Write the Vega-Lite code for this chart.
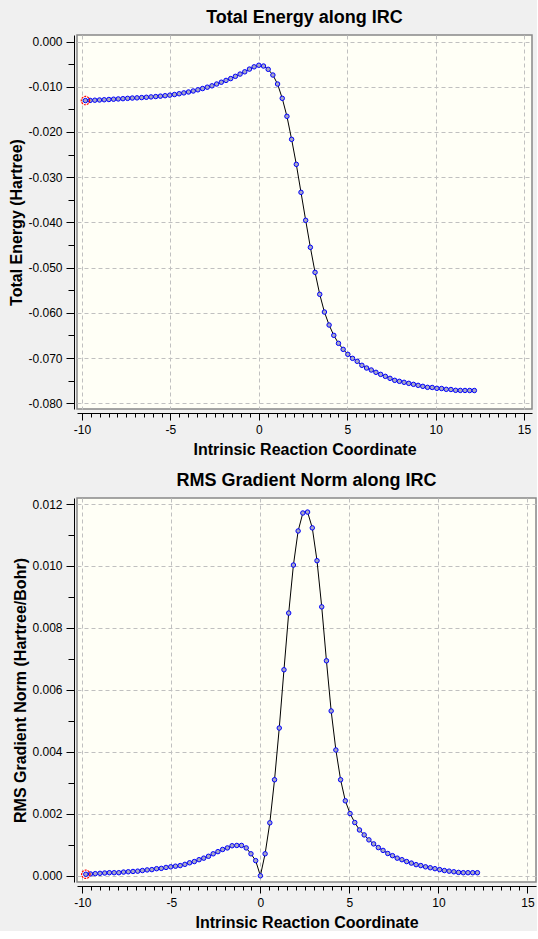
{
  "$schema": "https://vega.github.io/schema/vega-lite/v6.json",
  "background": "#f0f0f0",
  "padding": {"left": 8, "top": 8, "right": 0, "bottom": 0},
  "datasets": {
    "irc": [
      {"x": -9.805, "e": -0.01306, "g": 0.00005},
      {"x": -9.54, "e": -0.01302, "g": 0.00006},
      {"x": -9.275, "e": -0.01298, "g": 0.00007},
      {"x": -9.01, "e": -0.01293, "g": 0.00008},
      {"x": -8.745, "e": -0.01288, "g": 0.00009},
      {"x": -8.48, "e": -0.01282, "g": 0.0001},
      {"x": -8.215, "e": -0.01276, "g": 0.0001},
      {"x": -7.95, "e": -0.0127, "g": 0.0001},
      {"x": -7.685, "e": -0.01264, "g": 0.00012},
      {"x": -7.42, "e": -0.01257, "g": 0.00013},
      {"x": -7.155, "e": -0.0125, "g": 0.00014},
      {"x": -6.89, "e": -0.01246, "g": 0.00015},
      {"x": -6.625, "e": -0.0124, "g": 0.00017},
      {"x": -6.36, "e": -0.01233, "g": 0.00019},
      {"x": -6.095, "e": -0.01225, "g": 0.0002},
      {"x": -5.83, "e": -0.01217, "g": 0.00023},
      {"x": -5.565, "e": -0.01208, "g": 0.00024},
      {"x": -5.3, "e": -0.01198, "g": 0.00027},
      {"x": -5.035, "e": -0.01186, "g": 0.00029},
      {"x": -4.77, "e": -0.01172, "g": 0.00031},
      {"x": -4.505, "e": -0.01155, "g": 0.00033},
      {"x": -4.24, "e": -0.01136, "g": 0.00037},
      {"x": -3.975, "e": -0.01116, "g": 0.00042},
      {"x": -3.71, "e": -0.01094, "g": 0.00046},
      {"x": -3.445, "e": -0.01068, "g": 0.00052},
      {"x": -3.18, "e": -0.0104, "g": 0.00057},
      {"x": -2.915, "e": -0.0101, "g": 0.00063},
      {"x": -2.65, "e": -0.0098, "g": 0.00071},
      {"x": -2.385, "e": -0.0094, "g": 0.00078},
      {"x": -2.12, "e": -0.009, "g": 0.00085},
      {"x": -1.855, "e": -0.0086, "g": 0.0009},
      {"x": -1.59, "e": -0.0082, "g": 0.00097},
      {"x": -1.325, "e": -0.0077, "g": 0.00098},
      {"x": -1.06, "e": -0.0072, "g": 0.00098},
      {"x": -0.795, "e": -0.0067, "g": 0.0009},
      {"x": -0.53, "e": -0.0061, "g": 0.00071},
      {"x": -0.265, "e": -0.0056, "g": 0.00049},
      {"x": 0, "e": -0.00525, "g": 0.0},
      {"x": 0.265, "e": -0.00542, "g": 0.00071},
      {"x": 0.53, "e": -0.00615, "g": 0.00171},
      {"x": 0.795, "e": -0.00741, "g": 0.0031},
      {"x": 1.06, "e": -0.0094, "g": 0.00477},
      {"x": 1.325, "e": -0.01256, "g": 0.00665},
      {"x": 1.59, "e": -0.01654, "g": 0.00848},
      {"x": 1.855, "e": -0.02163, "g": 0.01003},
      {"x": 2.12, "e": -0.02716, "g": 0.01113},
      {"x": 2.385, "e": -0.03335, "g": 0.01171},
      {"x": 2.65, "e": -0.03954, "g": 0.01174},
      {"x": 2.915, "e": -0.04551, "g": 0.01123},
      {"x": 3.18, "e": -0.05104, "g": 0.01017},
      {"x": 3.445, "e": -0.0559, "g": 0.00868},
      {"x": 3.71, "e": -0.05982, "g": 0.00694},
      {"x": 3.975, "e": -0.06269, "g": 0.00532},
      {"x": 4.24, "e": -0.06497, "g": 0.00406},
      {"x": 4.505, "e": -0.06674, "g": 0.0031},
      {"x": 4.77, "e": -0.06807, "g": 0.00242},
      {"x": 5.035, "e": -0.06917, "g": 0.00201},
      {"x": 5.3, "e": -0.07006, "g": 0.00172},
      {"x": 5.565, "e": -0.07072, "g": 0.00148},
      {"x": 5.83, "e": -0.0716, "g": 0.00132},
      {"x": 6.095, "e": -0.0722, "g": 0.00116},
      {"x": 6.36, "e": -0.07264, "g": 0.00103},
      {"x": 6.625, "e": -0.07315, "g": 0.00091},
      {"x": 6.89, "e": -0.0736, "g": 0.00082},
      {"x": 7.155, "e": -0.07404, "g": 0.00072},
      {"x": 7.42, "e": -0.07448, "g": 0.00065},
      {"x": 7.685, "e": -0.07492, "g": 0.00057},
      {"x": 7.95, "e": -0.07514, "g": 0.00052},
      {"x": 8.215, "e": -0.07536, "g": 0.00046},
      {"x": 8.48, "e": -0.07559, "g": 0.00041},
      {"x": 8.745, "e": -0.07581, "g": 0.00036},
      {"x": 9.01, "e": -0.07603, "g": 0.00033},
      {"x": 9.275, "e": -0.07625, "g": 0.00029},
      {"x": 9.54, "e": -0.07647, "g": 0.00026},
      {"x": 9.805, "e": -0.0765, "g": 0.00023},
      {"x": 10.07, "e": -0.07669, "g": 0.0002},
      {"x": 10.335, "e": -0.07673, "g": 0.00017},
      {"x": 10.6, "e": -0.07691, "g": 0.00015},
      {"x": 10.865, "e": -0.07695, "g": 0.00013},
      {"x": 11.13, "e": -0.07713, "g": 0.00011},
      {"x": 11.395, "e": -0.07715, "g": 0.0001},
      {"x": 11.66, "e": -0.07716, "g": 0.0001},
      {"x": 11.925, "e": -0.07717, "g": 0.0001},
      {"x": 12.19, "e": -0.07717, "g": 0.0001}
    ]
  },
  "columns": 1,
  "align": "none",
  "spacing": 13,
  "concat": [
    {
      "width": 455,
      "height": 374,
      "title": {"text": "Total Energy along IRC"},
      "data": {"name": "irc"},
      "encoding": {
        "x": {
          "field": "x",
          "type": "quantitative",
          "scale": {"domain": [-10.283, 15.45], "nice": false, "zero": false},
          "axis": {
            "title": "Intrinsic Reaction Coordinate",
            "values": [-10,-9.5,-9,-8.5,-8,-7.5,-7,-6.5,-6,-5.5,-5,-4.5,-4,-3.5,-3,-2.5,-2,-1.5,-1,-0.5,0,0.5,1,1.5,2,2.5,3,3.5,4,4.5,5,5.5,6,6.5,7,7.5,8,8.5,9,9.5,10,10.5,11,11.5,12,12.5,13,13.5,14,14.5,15],
            "offset": 4,
            "titlePadding": 6,
            "tickSize": {"condition": {"test": "datum.value % 5 === 0", "value": 7}, "value": 4},
            "gridOpacity": {"condition": {"test": "datum.value % 5 === 0", "value": 1}, "value": 0},
            "labelExpr": "datum.value % 5 === 0 ? (datum.value < 0 ? '-' : '') + abs(datum.value) : ''"
          }
        },
        "y": {
          "field": "e",
          "type": "quantitative",
          "scale": {"domain": [-0.08126, 0.00144], "nice": false, "zero": false},
          "axis": {
            "title": "Total Energy (Hartree)",
            "values": [0,-0.005,-0.01,-0.015,-0.02,-0.025,-0.03,-0.035,-0.04,-0.045,-0.05,-0.055,-0.06,-0.065,-0.07,-0.075,-0.08],
            "offset": 3,
            "titlePadding": 3,
            "tickSize": {"condition": {"test": "abs(round(datum.value*1000)) % 10 === 0", "value": 8}, "value": 6},
            "gridOpacity": {"condition": {"test": "abs(round(datum.value*1000)) % 10 === 0", "value": 1}, "value": 0},
            "labelExpr": "abs(round(datum.value*1000)) % 10 === 0 ? (datum.value < -0.0001 ? '-' : '') + format(abs(datum.value), '.3f') : ''"
          }
        }
      },
      "layer": [
        {"mark": {"type": "line", "color": "black", "strokeWidth": 1}},
        {"mark": {"type": "point", "shape": "circle", "filled": true, "fill": "#a8a8c4", "stroke": "#0000ff", "strokeWidth": 1, "size": 20, "opacity": 1}},
        {
          "transform": [{"filter": "datum.x < -9.8"}],
          "mark": {"type": "point", "shape": "circle", "filled": false, "stroke": "#ff0000", "strokeWidth": 1.2, "strokeDash": [2, 1], "size": 70, "opacity": 1}
        }
      ]
    },
    {
      "width": 459,
      "height": 384,
      "title": {"text": "RMS Gradient Norm along IRC"},
      "data": {"name": "irc"},
      "encoding": {
        "x": {
          "field": "x",
          "type": "quantitative",
          "scale": {"domain": [-10.3, 15.48], "nice": false, "zero": false},
          "axis": {
            "title": "Intrinsic Reaction Coordinate",
            "values": [-10,-9.5,-9,-8.5,-8,-7.5,-7,-6.5,-6,-5.5,-5,-4.5,-4,-3.5,-3,-2.5,-2,-1.5,-1,-0.5,0,0.5,1,1.5,2,2.5,3,3.5,4,4.5,5,5.5,6,6.5,7,7.5,8,8.5,9,9.5,10,10.5,11,11.5,12,12.5,13,13.5,14,14.5,15],
            "offset": 4,
            "titlePadding": 6,
            "tickSize": {"condition": {"test": "datum.value % 5 === 0", "value": 7}, "value": 4},
            "gridOpacity": {"condition": {"test": "datum.value % 5 === 0", "value": 1}, "value": 0},
            "labelExpr": "datum.value % 5 === 0 ? (datum.value < 0 ? '-' : '') + abs(datum.value) : ''"
          }
        },
        "y": {
          "field": "g",
          "type": "quantitative",
          "scale": {"domain": [-0.0002, 0.012194], "nice": false, "zero": false},
          "axis": {
            "title": "RMS Gradient Norm (Hartree/Bohr)",
            "values": [0,0.001,0.002,0.003,0.004,0.005,0.006,0.007,0.008,0.009,0.01,0.011,0.012],
            "offset": 3,
            "titlePadding": 3,
            "tickSize": {"condition": {"test": "round(datum.value*1000) % 2 === 0", "value": 8}, "value": 6},
            "gridOpacity": {"condition": {"test": "round(datum.value*1000) % 2 === 0", "value": 1}, "value": 0},
            "labelExpr": "round(datum.value*1000) % 2 === 0 ? format(datum.value, '.3f') : ''"
          }
        }
      },
      "layer": [
        {"mark": {"type": "line", "color": "black", "strokeWidth": 1}},
        {"mark": {"type": "point", "shape": "circle", "filled": true, "fill": "#a8a8c4", "stroke": "#0000ff", "strokeWidth": 1, "size": 20, "opacity": 1}},
        {
          "transform": [{"filter": "datum.x < -9.8"}],
          "mark": {"type": "point", "shape": "circle", "filled": false, "stroke": "#ff0000", "strokeWidth": 1.2, "strokeDash": [2, 1], "size": 70, "opacity": 1}
        }
      ]
    }
  ],
  "config": {
    "view": {"fill": "#fffff6", "stroke": "#888888", "strokeWidth": 1.5},
    "title": {"font": "Liberation Sans", "fontSize": 18, "fontWeight": "bold", "color": "black", "frame": "group", "anchor": "middle", "offset": 8},
    "axis": {
      "labelFont": "Liberation Sans",
      "labelFontSize": 12,
      "labelColor": "black",
      "labelPadding": 4,
      "titleFont": "Liberation Sans",
      "titleFontSize": 16,
      "titleFontWeight": "bold",
      "titleColor": "black",
      "domainColor": "black",
      "domainWidth": 1,
      "tickColor": "black",
      "tickWidth": 1,
      "grid": true,
      "gridColor": "#c0c0c0",
      "gridDash": [4, 3],
      "gridWidth": 1
    }
  }
}
